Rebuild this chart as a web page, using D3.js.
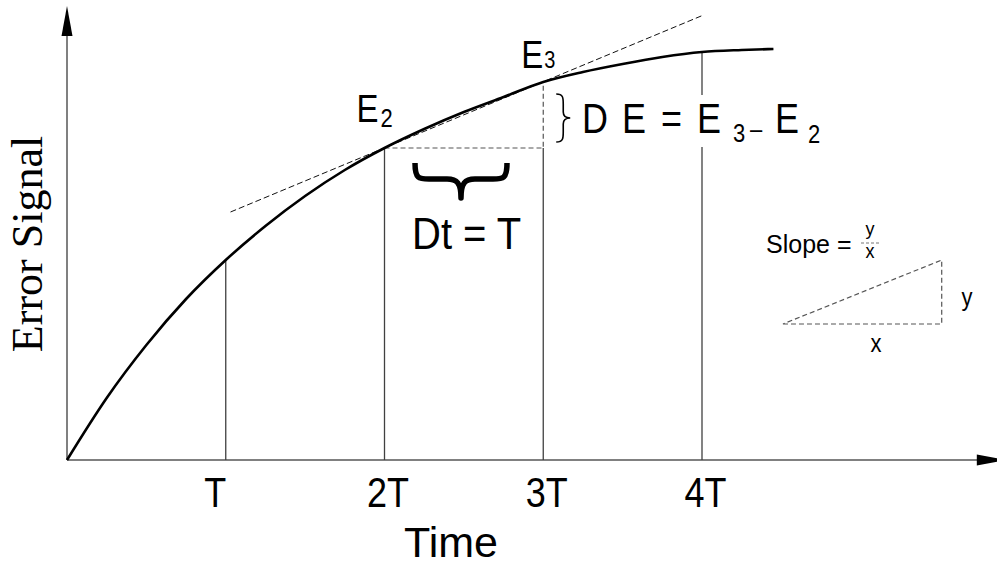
<!DOCTYPE html>
<html>
<head>
<meta charset="utf-8">
<script src="https://cdn.jsdelivr.net/npm/d3@7"></script>
<style>
  html, body { margin: 0; padding: 0; background: #fff; }
  svg { display: block; }
  text { font-family: "Liberation Sans", Arial, sans-serif; fill: #000; }
</style>
</head>
<body>
<svg id="chart" width="997" height="566"></svg>
<script>
// ---- data (time in units of T, signal in arbitrary units) ----
const curveTime   = [0, 0.25, 0.5, 0.75, 1, 1.25, 1.5, 1.75, 2, 2.25, 2.5, 2.75, 3, 3.25, 3.5, 3.75, 4, 4.25, 4.45];
const curveSignal = [0, 0.62, 1.15, 1.61, 2.00, 2.34, 2.64, 2.90, 3.12, 3.31, 3.48, 3.63, 3.78, 3.88, 3.96, 4.03, 4.08, 4.10, 4.11];
const tickValues  = [1, 2, 3, 4];
const tickLabels  = ["T", "2T", "3T", "4T"];
const tangentTime   = [1.03, 4.01];
const tangentSignal = [2.48, 4.45];
const slopeTriTime   = [4.51, 5.51, 5.51];
const slopeTriSignal = [1.36, 1.36, 2.00];
const xAxisMax = 5.92;
const yAxisMax = 4.54;

const svg = d3.select("#chart");
const x = d3.scaleLinear().domain([0, xAxisMax]).range([67, 67 + xAxisMax * 158.75]);
const y = d3.scaleLinear().domain([0, yAxisMax]).range([460, 6]);

const signalAt = t => curveSignal[curveTime.indexOf(t)];

// ---- axes ----
const xAxis = d3.axisBottom(x).tickValues(tickValues)
  .tickFormat((d, i) => tickLabels[i]).tickSize(0).tickSizeOuter(0);
const gx = svg.append("g").attr("transform", `translate(0,${y(0)})`).call(xAxis);
gx.select(".domain").attr("stroke", "#808080").attr("stroke-width", 2)
  .attr("d", `M${x(0)},0H${x(xAxisMax) - 25}`);
gx.selectAll(".tick text")
  .attr("y", null).attr("dy", null)
  .attr("font-family", "Liberation Sans, Arial, sans-serif")
  .attr("font-size", 36)
  .attr("transform", d => `translate(${d === 1 ? -11 : 3},47) scale(1,1.18)`);

const yAxis = d3.axisLeft(y).tickValues([]).tickSize(0).tickSizeOuter(0);
const gy = svg.append("g").attr("transform", `translate(${x(0)},0)`).call(yAxis);
gy.select(".domain").attr("stroke", "#808080").attr("stroke-width", 2)
  .attr("d", `M0,${y(0)}V${y(yAxisMax) + 25}`);

// arrowheads
svg.append("path").attr("fill", "#000")
  .attr("d", `M${x(0)},${y(yAxisMax)}L${x(0) - 5.5},${y(yAxisMax) + 30}L${x(0) + 5.5},${y(yAxisMax) + 30}Z`);
svg.append("path").attr("fill", "#000")
  .attr("d", `M${x(xAxisMax)},${y(0)}L${x(xAxisMax) - 30},${y(0) - 5.5}L${x(xAxisMax) - 30},${y(0) + 5.5}Z`);

// ---- vertical lines at T, 2T, 3T, 4T ----
svg.append("g").selectAll("line").data(tickValues).join("line")
  .attr("x1", d => x(d)).attr("x2", d => x(d))
  .attr("y1", y(0))
  .attr("y2", d => d === 3 ? y(signalAt(2)) : y(signalAt(d)))
  .attr("stroke", "#404040").attr("stroke-width", 1.3);

// dashed step E2 -> E3
svg.append("path")
  .attr("d", `M${x(2)},${y(signalAt(2))}H${x(3)}V${y(signalAt(3))}`)
  .attr("fill", "none").attr("stroke", "#555").attr("stroke-width", 1.2)
  .attr("stroke-dasharray", "5,3");

// dashed tangent/secant
svg.append("line")
  .attr("x1", x(tangentTime[0])).attr("y1", y(tangentSignal[0]))
  .attr("x2", x(tangentTime[1])).attr("y2", y(tangentSignal[1]))
  .attr("stroke", "#111").attr("stroke-width", 1).attr("stroke-dasharray", "6,3");

// ---- main curve ----
const line = d3.line().x((d, i) => x(curveTime[i])).y(d => y(d)).curve(d3.curveMonotoneX);
svg.append("path").datum(curveSignal).attr("d", line)
  .attr("fill", "none").attr("stroke", "#000").attr("stroke-width", 2.6);

// ---- E2 / E3 labels ----
function label(xp, yp, txt, size, sy, anchor) {
  svg.append("text").attr("transform", `translate(${xp},${yp}) scale(1,${sy})`)
    .attr("font-size", size).attr("text-anchor", anchor || "start").text(txt);
}
label(x(2) - 28, 122, "E", 33, 1.2);
label(x(2) - 4, 127, "2", 22, 1.2);
label(x(3) - 22, 68, "E", 33, 1.2);
label(x(3) + 1, 68, "3", 20, 1.2);

// ---- DE = E3 - E2 ----
svg.append("rect").attr("x", 578).attr("y", 95).attr("width", 250).attr("height", 52).attr("fill", "#fff");
const bx = x(3) + 13, byTop = y(signalAt(3)) + 12, byBot = y(signalAt(2)) - 6, bm = (byTop + byBot) / 2;
svg.append("path")
  .attr("d", `M${bx},${byTop} C${bx + 7},${byTop} ${bx + 7},${byTop + 4} ${bx + 7},${byTop + 10}
              L${bx + 7},${bm - 6} C${bx + 7},${bm - 2} ${bx + 9},${bm} ${bx + 14},${bm}
              C${bx + 9},${bm} ${bx + 7},${bm + 2} ${bx + 7},${bm + 6}
              L${bx + 7},${byBot - 10} C${bx + 7},${byBot - 4} ${bx + 7},${byBot} ${bx},${byBot}`)
  .attr("fill", "none").attr("stroke", "#000").attr("stroke-width", 1.6);
label(582, 133, "D", 36, 1.2);
label(622, 133, "E", 36, 1.2);
label(661, 133, "=", 36, 1.2);
label(697, 133, "E", 36, 1.2);
label(733, 142, "3", 22, 1.2);
label(750, 138, "\u2013", 22, 1.2);
label(775, 133, "E", 36, 1.2);
label(808, 143, "2", 22, 1.2);

// ---- underbrace & Dt = T ----
const ux0 = 415, ux1 = 507, um = (ux0 + ux1) / 2, uTop = 163, uBar = 179, uTip = 198;
svg.append("path")
  .attr("d", `M${ux0},${uTop} C${ux0},${uBar} ${ux0 + 4},${uBar} ${ux0 + 14},${uBar}
              L${um - 14},${uBar} C${um - 4},${uBar} ${um},${uBar + 4} ${um},${uTip}
              C${um},${uBar + 4} ${um + 4},${uBar} ${um + 14},${uBar}
              L${ux1 - 14},${uBar} C${ux1 - 4},${uBar} ${ux1},${uBar} ${ux1},${uTop}`)
  .attr("fill", "none").attr("stroke", "#000").attr("stroke-width", 5.5).attr("stroke-linejoin", "round");
label(412, 249, "Dt = T", 40, 1.1);

// ---- slope legend ----
const tri = slopeTriTime.map((t, i) => [x(t), y(slopeTriSignal[i])]);
svg.append("path").attr("d", d3.line()(tri) + "Z")
  .attr("fill", "none").attr("stroke", "#555").attr("stroke-width", 1.2).attr("stroke-dasharray", "5,3");
label(766, 253, "Slope =", 25, 1.0);
label(870, 235, "y", 18, 1.0, "middle");
svg.append("line").attr("x1", 861).attr("x2", 880).attr("y1", 243).attr("y2", 243)
  .attr("stroke", "#777").attr("stroke-width", 1).attr("stroke-dasharray", "3,2");
label(870, 258, "x", 18, 1.1, "middle");
label(967, 306, "y", 22, 1.2, "middle");
label(876, 352, "x", 22, 1.2, "middle");

// ---- axis titles ----
svg.append("text").attr("x", 451).attr("y", 557).attr("text-anchor", "middle")
  .attr("font-size", 43).text("Time");
svg.append("text").attr("transform", "translate(42,244) rotate(-90)")
  .attr("text-anchor", "middle").style("font-family", "'Liberation Serif', 'Times New Roman', serif")
  .attr("font-size", 44).text("Error Signal");
</script>
</body>
</html>
